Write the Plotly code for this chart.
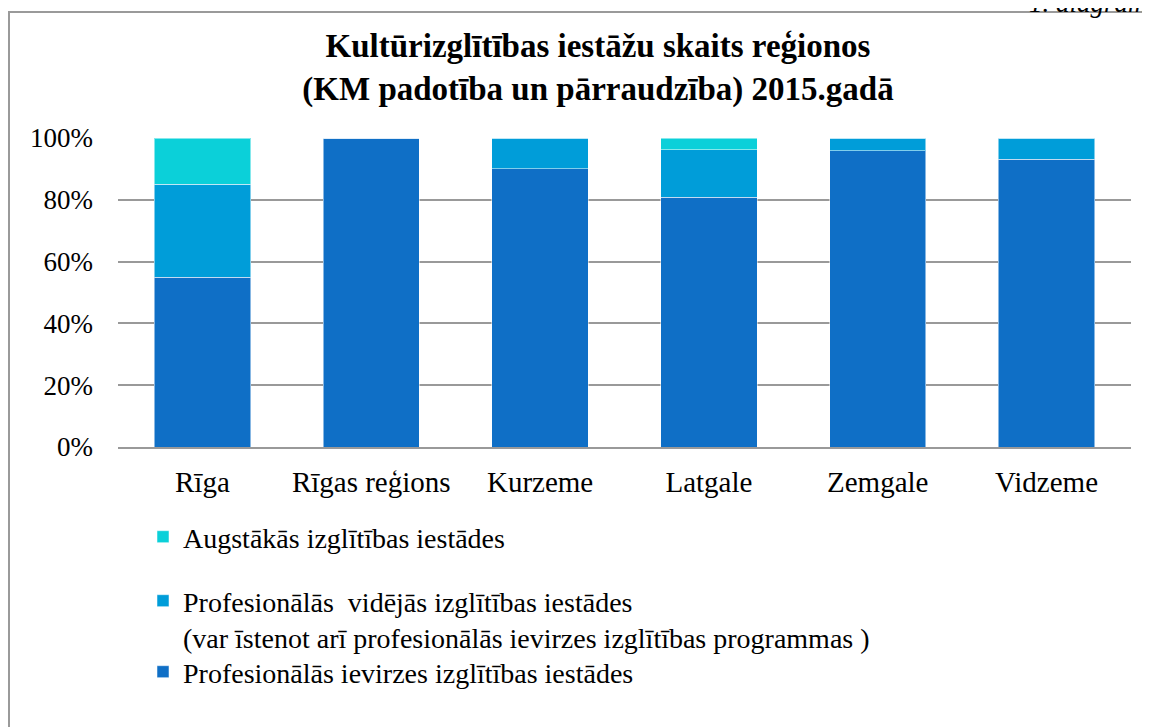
import plotly.graph_objects as go

categories = ["Rīga", "Rīgas reģions", "Kurzeme", "Latgale", "Zemgale", "Vidzeme"]
ievirzes = [55.0, 100.0, 90.0, 80.8, 95.8, 93.2]
videjas = [30.0, 0.0, 10.0, 15.4, 4.2, 6.8]
augstakas = [15.0, 0.0, 0.0, 3.8, 0.0, 0.0]

names = [
    "Profesionālās ievirzes izglītības iestādes",
    "Profesionālās  vidējās izglītības iestādes<br>(var īstenot arī profesionālās ievirzes izglītības programmas )",
    "Augstākās izglītības iestādes",
]
colors = ["#0F6FC6", "#009DD9", "#0BD0D9"]
tick_vals = [0, 20, 40, 60, 80, 100]
tick_text = ["0%", "20%", "40%", "60%", "80%", "100%"]

FONT = "Liberation Serif"
OFF = 8  # page body margin

W, H = 1142, 719
L, R, T, B = 118 - OFF, 1150 - 1131, 138 - OFF, 727 - 447
pw, ph = W - L - R, H - T - B
def px(x):
    return (x - OFF - L) / pw
def py(y):
    return (H - B - (y - OFF)) / ph

legend_ids = ["legend", "legend2", "legend3"]
legend_y = [672, 619, 537]

fig = go.Figure()
for vals, name, col, lg in zip([ievirzes, videjas, augstakas], names, colors, legend_ids):
    fig.add_trace(go.Bar(x=categories, y=vals, name=name, legend=lg,
                         marker=dict(color=col, line=dict(color="rgba(255,255,255,0.5)", width=1))))

def leg(y):
    return dict(orientation="v", x=px(143), xanchor="left", y=py(y), yanchor="middle",
                valign="top", bgcolor="rgba(0,0,0,0)",
                font=dict(family=FONT, size=28, color="black"), itemwidth=30)

fig.update_layout(
    width=W, height=H,
    margin=dict(l=L, r=R, t=T, b=B),
    barmode="stack", bargap=0.43,
    plot_bgcolor="white", paper_bgcolor="white",
    font=dict(family=FONT, size=27, color="black"),
    title=dict(text="<b>Kultūrizglītības iestāžu skaits reģionos<br>(KM padotība un pārraudzība) 2015.gadā</b>",
               xref="container", x=(598 - OFF) / W, xanchor="center",
               y=1 - (57 - OFF) / H, yanchor="middle",
               font=dict(family=FONT, size=33, color="black")),
    xaxis=dict(showgrid=False, showline=True, linecolor="#999999", linewidth=1.5,
               ticks="", tickfont=dict(family=FONT, size=29), ticklabelstandoff=8),
    yaxis=dict(range=[0, 100], tickvals=tick_vals, ticktext=tick_text,
               showgrid=True, gridcolor="#999999", gridwidth=1.5,
               zeroline=False, showline=False, ticks="", ticklabelstandoff=24,
               tickfont=dict(family=FONT, size=27)),
    legend=leg(legend_y[0]),
    legend2=leg(legend_y[1]),
    legend3=leg(legend_y[2]),
    showlegend=True,
)

fig.add_shape(type="rect", xref="paper", yref="paper",
              x0=px(9), x1=px(1170), y0=py(760), y1=py(12),
              line=dict(color="#9a9a9a", width=2), fillcolor="rgba(0,0,0,0)", layer="below")
fig.add_annotation(text="<i>1. diagramma</i>", xref="paper", yref="paper",
                   x=px(1027), xanchor="left", y=py(3), yanchor="middle",
                   showarrow=False, font=dict(family=FONT, size=27, color="black"))

fig.write_html("out.html")
